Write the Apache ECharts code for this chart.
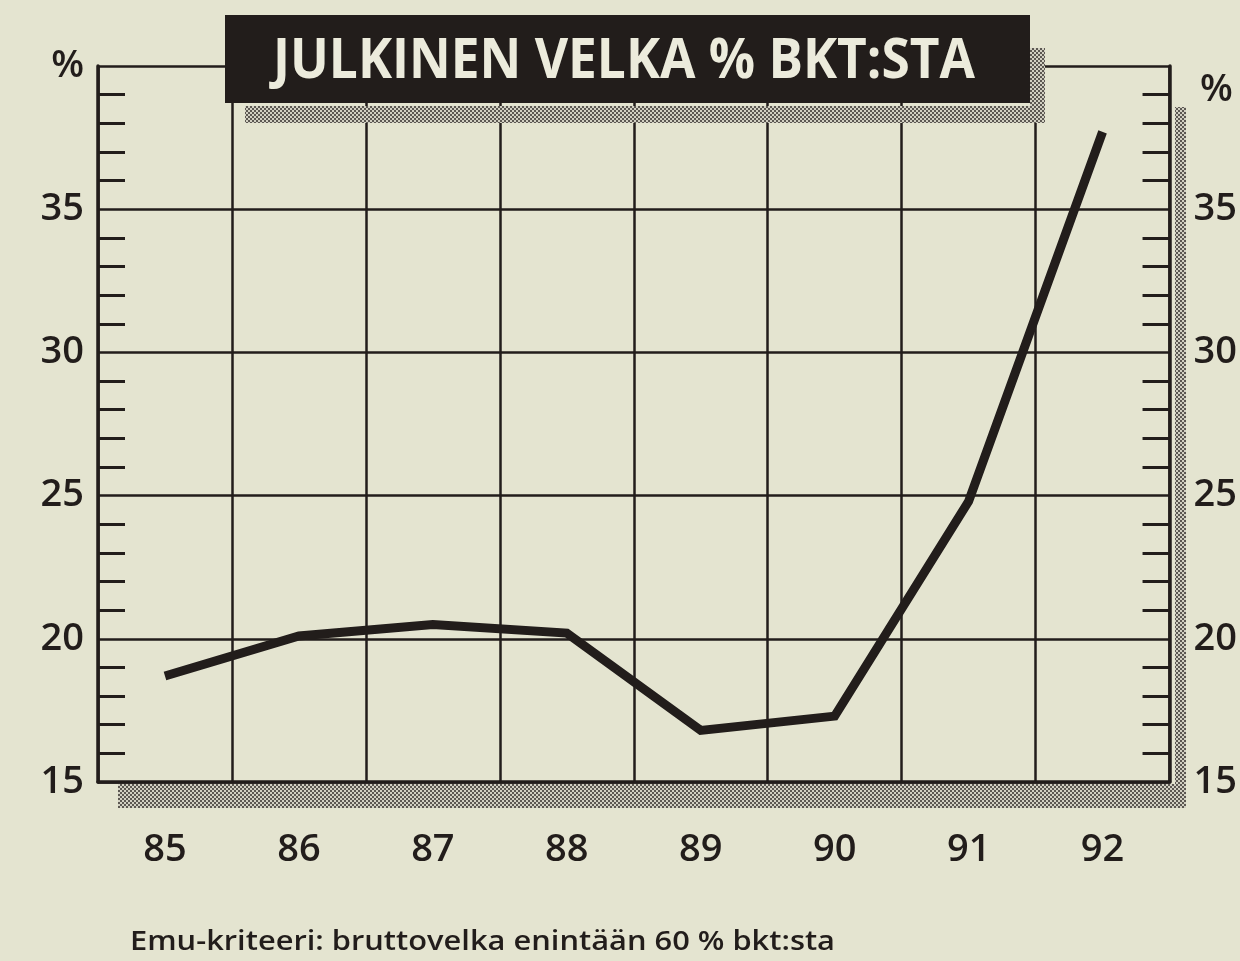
<!DOCTYPE html>
<html><head><meta charset="utf-8">
<script src="https://cdn.jsdelivr.net/npm/echarts@6/dist/echarts.min.js"></script>
<style>html,body{margin:0;padding:0;background:#e4e4d0}#c{width:1240px;height:961px}</style>
</head><body><div id="c"></div>
<script>
// ---- data ----
const years = ['85', '86', '87', '88', '89', '90', '91', '92'];
const debtPct = [18.7, 20.1, 20.5, 20.2, 16.8, 17.3, 24.8, 37.7];
const yMin = 15;
const yMax = 40;
const yStep = 5;
const titleText = 'JULKINEN VELKA % BKT:STA';
const noteText = 'Emu-kriteeri: bruttovelka enintään 60 % bkt:sta';
const unitText = '%';

// ---- styles ----
const bg = '#e4e4d0';
const ink = '#221d1b';
const font = '"Open Sans", "Noto Sans", sans-serif';

// stipple pattern for shadows
const pc = document.createElement('canvas');
pc.width = 4; pc.height = 4;
const pg = pc.getContext('2d');
pg.fillStyle = '#d2d0c2'; pg.fillRect(0, 0, 4, 4);
pg.fillStyle = '#5c5852'; pg.fillRect(0, 0, 2, 2); pg.fillRect(2, 2, 2, 2);
const stipple = { image: pc, repeat: 'repeat' };

function measure(txt, f) {
  const c = document.createElement('canvas').getContext('2d');
  c.font = f;
  return c.measureText(txt).width;
}
const titleFont = 'bold 55px "Open Sans"';
const titleScale = 702 / measure(titleText, titleFont);
const noteFont = '600 27px "Open Sans"';
const noteScale = 705 / measure(noteText, noteFont);

const G = { left: 98, right: 67, top: 66, bottom: 179 };

const labelStyle = { fontSize: 38, fontWeight: 600, color: ink, fontFamily: font };

const chart = echarts.init(document.getElementById('c'), null, { renderer: 'canvas' });
chart.setOption({
  backgroundColor: bg,
  animation: false,
  grid: { left: G.left, right: G.right, top: G.top, bottom: G.bottom, containLabel: false },
  xAxis: {
    type: 'category',
    data: years,
    boundaryGap: true,
    axisLine: { show: true, lineStyle: { color: ink, width: 3.5 } },
    axisTick: { show: false },
    splitLine: { show: true, lineStyle: { color: ink, width: 2.5 } },
    axisLabel: Object.assign({ margin: 49 }, labelStyle)
  },
  yAxis: [
    {
      type: 'value', min: yMin, max: yMax, interval: yStep, position: 'left',
      axisLine: { show: true, lineStyle: { color: ink, width: 3.5 } },
      axisTick: { show: false, inside: true },
      minorTick: { show: true, splitNumber: 5, length: 27, lineStyle: { color: ink, width: 3 } },
      splitLine: { show: true, lineStyle: { color: ink, width: 2.5 } },
      axisLabel: Object.assign({
        margin: 14,
        formatter: v => (v === yMax ? unitText : String(v))
      }, labelStyle)
    },
    {
      type: 'value', min: yMin, max: yMax, interval: yStep, position: 'right',
      axisLine: { show: true, lineStyle: { color: ink, width: 3.5 } },
      axisTick: { show: false, inside: true },
      minorTick: { show: true, splitNumber: 5, length: 27, lineStyle: { color: ink, width: 3 } },
      splitLine: { show: false },
      axisLabel: Object.assign({
        margin: 24,
        formatter: v => (v === yMax ? '' : String(v))
      }, labelStyle)
    }
  ],
  series: [{
    type: 'line',
    data: debtPct,
    symbol: 'none',
    lineStyle: { color: ink, width: 9, cap: 'butt', join: 'miter' },
    z: 10
  }],
  graphic: [
    // plot shadow (bottom and right)
    { type: 'rect', z: 1, shape: { x: 118, y: 784, width: 1068, height: 24 }, style: { fill: stipple } },
    { type: 'rect', z: 1, shape: { x: 1175, y: 107, width: 11, height: 701 }, style: { fill: stipple } },
    // title shadow
    { type: 'rect', z: 100, shape: { x: 245, y: 106, width: 800, height: 17 }, style: { fill: stipple } },
    { type: 'rect', z: 100, shape: { x: 1030, y: 48, width: 15, height: 75 }, style: { fill: stipple } },
    // title box
    { type: 'rect', z: 101, shape: { x: 225, y: 15, width: 805, height: 88 }, style: { fill: ink } },
    {
      type: 'text', z: 102, x: 273, y: 62, scaleX: titleScale,
      style: { text: titleText, font: titleFont, fill: '#ecebdc', textVerticalAlign: 'middle', textAlign: 'left' }
    },
    // right unit
    {
      type: 'text', z: 102, x: 1200, y: 90,
      style: { text: unitText, font: '600 38px "Open Sans"', fill: ink, textVerticalAlign: 'middle', textAlign: 'left' }
    },
    // footnote
    {
      type: 'text', z: 102, x: 130, y: 942, scaleX: noteScale,
      style: { text: noteText, font: noteFont, fill: ink, textVerticalAlign: 'middle', textAlign: 'left' }
    }
  ]
});
</script>
</body></html>
